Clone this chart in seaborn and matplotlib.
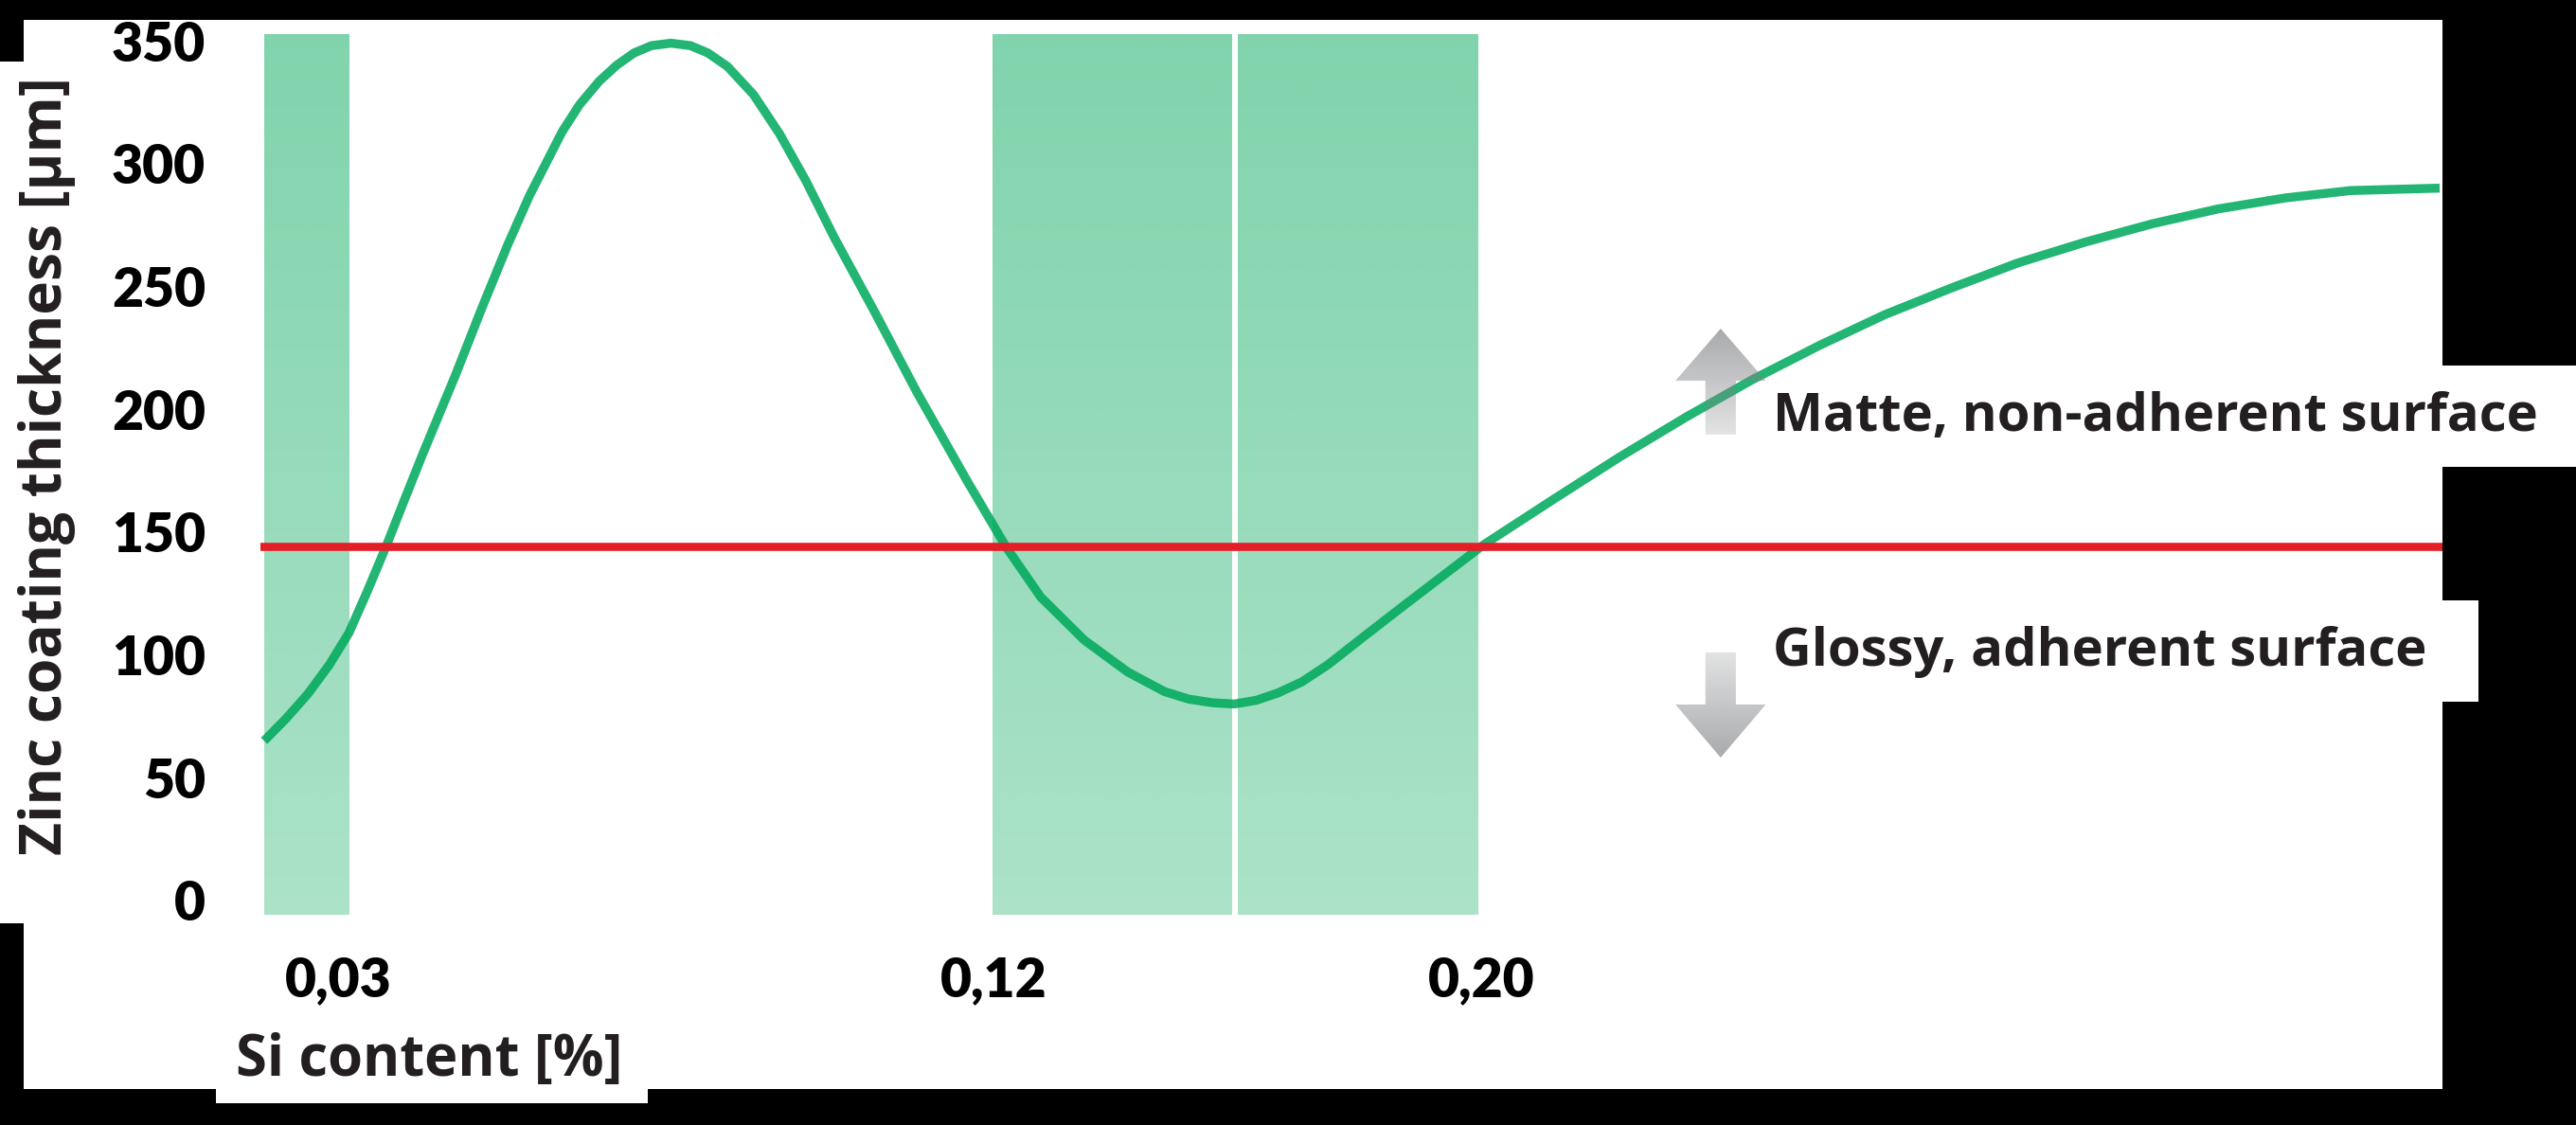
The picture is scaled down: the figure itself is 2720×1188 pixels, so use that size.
import numpy as np
import matplotlib.pyplot as plt
import seaborn as sns
from matplotlib.patches import Rectangle, Polygon

# Curve; x is the position along the (schematic) Si axis, 0-100
si_pos = [0.0, 1.0, 2.0, 3.0, 3.9, 4.7, 5.6, 6.4, 7.3, 8.8, 10.0, 11.2, 12.2, 13.7,
          14.5, 15.4, 16.2, 17.0, 17.8, 18.7, 19.6, 20.4, 21.3, 22.5, 23.7, 24.9,
          26.2, 28.1, 30.0, 32.3, 34.1, 35.7, 37.7, 39.7, 41.4, 42.5, 43.6, 44.6,
          45.6, 46.6, 47.7, 48.9, 50.7, 52.6, 54.3, 56.0, 59.3, 62.3, 65.4, 68.4,
          71.5, 74.5, 77.6, 80.6, 83.7, 86.8, 89.8, 92.9, 95.9, 100.0]
thickness = [65, 74, 84, 96, 109, 125, 144, 162, 182, 214, 241, 267, 287, 313,
             324, 333.5, 340, 345, 348, 349, 348, 345, 339.5, 328, 312, 293,
             270, 239, 207, 171, 144, 123.5, 106, 93, 85, 82, 80.5, 80,
             81.5, 84.5, 89, 96, 108.5, 121.5, 133, 144.5, 163.5, 180.5, 197, 212,
             226, 238.5, 249.5, 259.5, 268, 275.5, 281.5, 286, 289, 290]

threshold = 144  # red line between glossy and matte

# shaded Si ranges (start, end) on the same position scale
bands = [(0.0, 3.9), (33.5, 44.5), (44.75, 55.8)]

x_ticks = [3.4, 33.55, 55.95]
x_labels = ["0,03", "0,12", "0,20"]
y_ticks = [0, 50, 100, 150, 200, 250, 300, 350]
y_labels = [str(v) for v in y_ticks]

W, H = 2720, 1188

sns.set_theme(style="white")
plt.rcParams["font.family"] = ["Lato", "DejaVu Sans"]
plt.rcParams["font.weight"] = "bold"
wide = ["Open Sans", "DejaVu Sans"]

fig = plt.figure(figsize=(W / 100, H / 100), dpi=100, facecolor="black")


def px_rect(x0, y0, x1, y1):
    # white backing panels, given in pixels from the top-left corner
    r = Rectangle((x0 / W, 1 - y1 / H), (x1 - x0) / W, (y1 - y0) / H,
                  transform=fig.transFigure, facecolor="white", edgecolor="none", zorder=-5)
    fig.add_artist(r)


px_rect(25, 21, 2579, 1150)
px_rect(0, 65, 25, 975)
px_rect(228, 1149, 684, 1165)
px_rect(2578, 386, 2720, 493)
px_rect(2578, 634, 2617, 741)

ax = fig.add_axes([275 / W, 1 - 966 / H, (2579 - 275) / W, (966 - 36) / H])
ax.set_facecolor("white")

ylim = (-5.8, 352.7)
xlim = (-0.17, 100.13)

sns.lineplot(x=si_pos, y=thickness, ax=ax, color="#22b573", lw=6.8, zorder=2)
ax.lines[-1].set_solid_capstyle("butt")
ax.lines[-1].set_solid_joinstyle("round")
ax.axhline(threshold, color="#e41e26", lw=6.2, zorder=3.5)

# green bands with vertical gradient, laid over the curve
n = 256
for x0, x1 in bands:
    img = np.zeros((n, 1, 4))
    img[..., 1] = 168 / 255
    img[..., 2] = 89 / 255
    img[:, 0, 3] = np.linspace(0.33, 0.5, n)
    ax.imshow(img, extent=(x0, x1, ylim[0], ylim[1]), origin="lower",
              aspect="auto", interpolation="bilinear", zorder=3)


def grey_arrow(x, y_tail, y_tip, head_len, head_w=4.15, shaft_w=1.4):
    d = 1 if y_tip > y_tail else -1
    yb = y_tip - d * head_len
    verts = [(x - shaft_w / 2, y_tail), (x - shaft_w / 2, yb), (x - head_w / 2, yb),
             (x, y_tip), (x + head_w / 2, yb), (x + shaft_w / 2, yb), (x + shaft_w / 2, y_tail)]
    poly = Polygon(verts, closed=True, facecolor="none", edgecolor="none")
    ax.add_patch(poly)
    img = np.zeros((n, 1, 4))
    img[..., 0] = 128 / 255
    img[..., 1] = 130 / 255
    img[..., 2] = 133 / 255
    alpha = np.linspace(0.22, 0.68, n)
    img[:, 0, 3] = alpha if d > 0 else alpha[::-1]
    lo, hi = min(y_tail, y_tip), max(y_tail, y_tip)
    im = ax.imshow(img, extent=(x - head_w / 2, x + head_w / 2, lo, hi), origin="lower",
                   aspect="auto", interpolation="bilinear", zorder=4)
    im.set_clip_path(poly)


grey_arrow(66.95, threshold + 45.7, threshold + 88.8, 21.2)
grey_arrow(66.95, threshold - 43.0, threshold - 85.8, 21.6)

ax.text(69.35, 191.2, "Matte, non-adherent surface", fontsize=40.5, fontweight="bold",
        family=wide, color="#231f20", ha="left", va="baseline", zorder=5, clip_on=False)
ax.text(69.35, 95.6, "Glossy, adherent surface", fontsize=40.5, fontweight="bold",
        family=wide, color="#231f20", ha="left", va="baseline", zorder=5, clip_on=False)

ax.set_xlim(*xlim)
ax.set_ylim(*ylim)
ax.set_xticks(x_ticks)
ax.set_xticklabels(x_labels)
ax.set_yticks(y_ticks)
ax.set_yticklabels(y_labels)
ax.tick_params(axis="both", length=0, labelsize=41, labelcolor="black")
ax.tick_params(axis="y", pad=41.8)
ax.tick_params(axis="x", pad=31)
for lab in ax.get_xticklabels() + ax.get_yticklabels():
    lab.set_fontweight("heavy")
for s in ax.spines.values():
    s.set_visible(False)

fig.text(50 / W, 1 - 492 / H, "Zinc coating thickness [μm]", rotation=90,
         ha="center", va="center", fontsize=43.5, fontweight="bold", family=wide,
         color="#231f20")
fig.text(453 / W, 1 - 1136 / H, "Si content [%]", ha="center", va="baseline",
         fontsize=43, fontweight="bold", family=wide, color="#231f20")

fig.savefig("out.png", dpi=100, facecolor=fig.get_facecolor())
